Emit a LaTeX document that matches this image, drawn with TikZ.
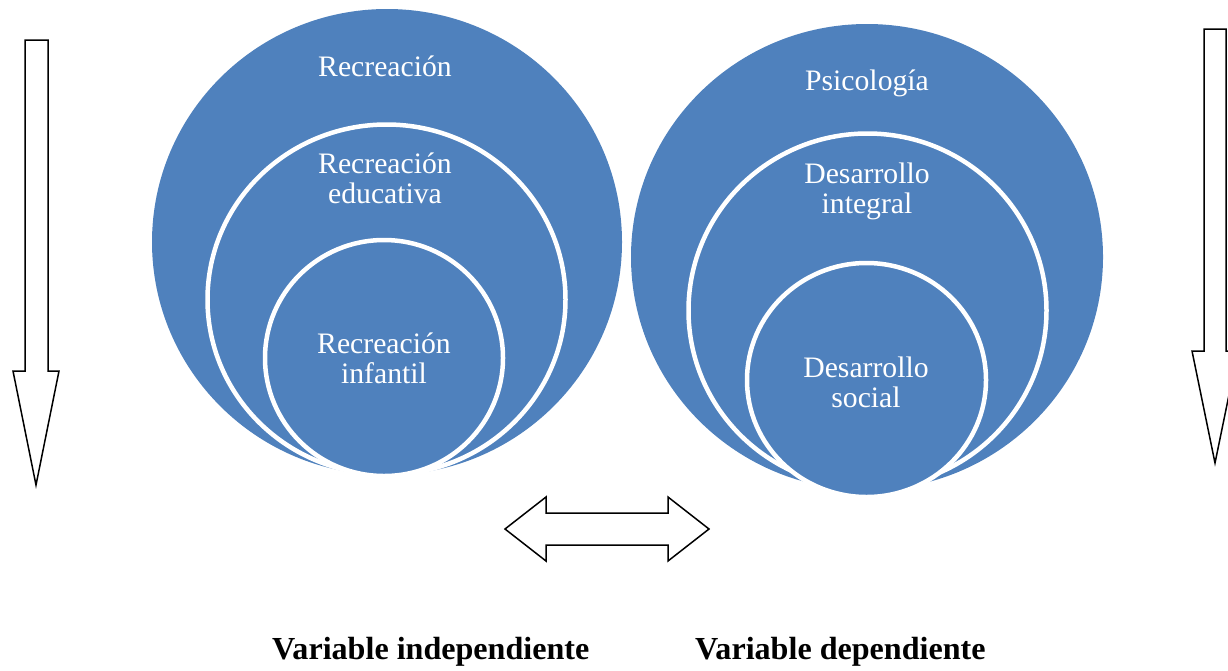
\documentclass[tikz,border=0pt]{standalone}
\usepackage{fontspec}
\setmainfont{Liberation Serif}
\definecolor{ringblue}{HTML}{4F81BD}
\tikzset{
  bigdisc/.style={fill=ringblue},
  ringdisc/.style={fill=ringblue, draw=white, line width=4.5pt},
  circlabel/.style={text=white, font=\fontsize{29.7}{30}\selectfont, align=center, anchor=base, inner sep=0pt},
  varlabel/.style={font=\fontsize{32.1}{34}\selectfont\bfseries, anchor=base west, inner sep=0pt},
  hollowarrow/.style={draw=black, fill=white, line width=1.5pt, line join=miter}
}
\begin{document}
\begin{tikzpicture}[x=1pt,y=-1pt]
\useasboundingbox (0,0) rectangle (1228,670);
\clip (0,0) rectangle (1228,670);
% left nested circles
\fill[bigdisc] (387,242) ellipse [x radius=235, y radius=233];
\filldraw[ringdisc] (386.5,299.5) ellipse [x radius=179, y radius=175];
\filldraw[ringdisc] (384,358) ellipse [x radius=119, y radius=118];
% right nested circles
\fill[bigdisc] (867,257) ellipse [x radius=236, y radius=233];
\filldraw[ringdisc] (867.5,310.5) ellipse [x radius=179, y radius=177];
\filldraw[ringdisc] (866.5,380) ellipse [x radius=119.5, y radius=117];
% labels
\node[circlabel] (l1) at (385,76) {Recreación};
\node[circlabel] (l2) at (385,173) {Recreación};
\node[circlabel] (l2b) at (385,203) {educativa};
\node[circlabel] (l3) at (384,353) {Recreación};
\node[circlabel] (l3b) at (384,383) {infantil};
\node[circlabel] (r1) at (867,90) {Psicología};
\node[circlabel] (r2) at (867,183) {Desarrollo};
\node[circlabel] (r2b) at (867,213) {integral};
\node[circlabel] (r3) at (866,377) {Desarrollo};
\node[circlabel] (r3b) at (866,407) {social};
% arrows
\draw[hollowarrow] (25,40) -- (48,40) -- (48,371) -- (59,371) -- (36,485) -- (13,371) -- (25,371) -- cycle;
\draw[hollowarrow] (1204,29) -- (1226,29) -- (1226,351) -- (1238,351) -- (1215,463) -- (1192,351) -- (1204,351) -- cycle;
\draw[hollowarrow] (505,529) -- (546,497) -- (546,513) -- (668,513) -- (668,497) -- (709,529) -- (668,561) -- (668,545) -- (546,545) -- (546,561) -- cycle;
% bottom labels
\node[varlabel] (vi) at (272,659) {Variable independiente};
\node[varlabel] (vd) at (695,659) {Variable dependiente};
\end{tikzpicture}
\end{document}
